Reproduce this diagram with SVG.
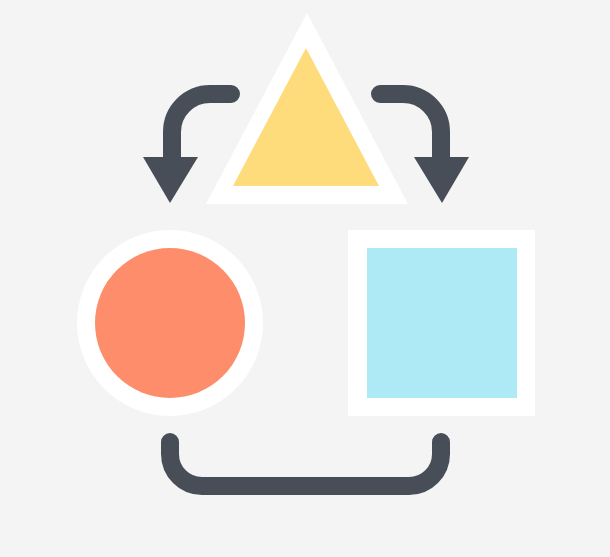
<svg xmlns="http://www.w3.org/2000/svg" width="610" height="557" viewBox="0 0 610 557">
  <style>
    .conn { fill: none; stroke: #484e57; stroke-width: 18; stroke-linecap: round; stroke-linejoin: round; }
    .head { fill: #484e57; }
    .frame { fill: #ffffff; }
  </style>
  <rect width="610" height="557" fill="#f4f4f4"/>
  <g id="triangle">
    <polygon class="frame" points="307,13 206,204 408,204"/>
    <polygon fill="#fedb7b" points="306,48 233,186 379,186"/>
  </g>
  <g id="circle">
    <circle class="frame" cx="170" cy="323" r="93"/>
    <circle fill="#fe8e6b" cx="170" cy="323" r="75"/>
  </g>
  <g id="square">
    <rect class="frame" x="348" y="230" width="187" height="186"/>
    <rect fill="#aeeaf5" x="367" y="248" width="150" height="150"/>
  </g>
  <g id="connectors">
    <path class="conn" d="M231 94 H210 A38 38 0 0 0 172 132 V162"/>
    <polygon class="head" points="143,157 198,157 170,203"/>
    <path class="conn" d="M380 94 H403 A38 38 0 0 1 441 132 V162"/>
    <polygon class="head" points="414,157 469,157 442,203"/>
    <path class="conn" d="M170 442 V454 A32 32 0 0 0 202 486 H409 A32 32 0 0 0 441 454 V442"/>
  </g>
</svg>
